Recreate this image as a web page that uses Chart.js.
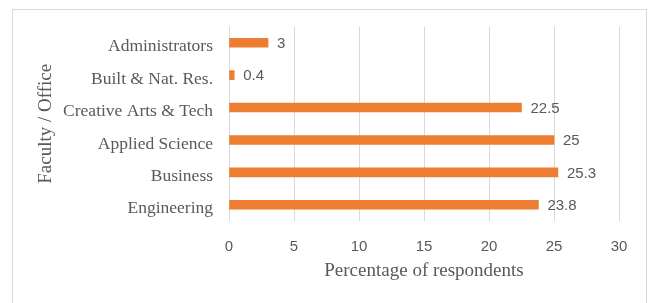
<!DOCTYPE html>
<html>
<head>
<meta charset="utf-8">
<script src="https://cdn.jsdelivr.net/npm/chart.js@4"></script>
<style>
  html, body { margin: 0; padding: 0; background: #fff; }
  #wrap { position: relative; width: 653px; height: 303px; overflow: hidden; }
  #frame { position: absolute; left: 12px; top: 9px; width: 633px; height: 320px; border: 1px solid #d9d9d9; }
  #chartCanvas { position: absolute; left: 0; top: 0; }
</style>
</head>
<body>
<div id="wrap">
  <div id="frame"></div>
  <canvas id="chartCanvas" width="653" height="303"></canvas>
</div>
<script>
// Kategoriler ve değerler (üstten alta)
const categories = ["Administrators", "Built & Nat. Res.", "Creative Arts & Tech", "Applied Science", "Business", "Engineering"];
const percentages = [3, 0.4, 22.5, 25, 25.3, 23.8];
const xTicks = [0, 5, 10, 15, 20, 25, 30];

const grey = "#595959";
const serif = "'Liberation Serif', 'Times New Roman', serif";
const sans = "'Liberation Sans', Arial, sans-serif";

// Bar sonuna değer yazan basit eklenti
const valueLabels = {
    id: "valueLabels",
    afterDatasetsDraw(chart) {
        let ctx = chart.ctx;
        let meta = chart.getDatasetMeta(0);
        ctx.save();
        ctx.font = "15px " + sans;
        ctx.fillStyle = grey;
        ctx.textAlign = "left";
        ctx.textBaseline = "middle";
        meta.data.forEach((bar, i) => {
            ctx.fillText(String(percentages[i]), bar.x + 9, bar.y + 1);
        });
        ctx.restore();
    }
};

let ctx = document.getElementById("chartCanvas");

new Chart(ctx, {
    type: "bar",
    data: {
        labels: categories,
        datasets: [{
            label: "Percentage of respondents",
            data: percentages,
            backgroundColor: "#ED7D31",
            barThickness: 9
        }]
    },
    options: {
        indexAxis: "y",
        responsive: false,
        animation: false,
        layout: { padding: { left: 35, top: 25, right: 34, bottom: 0 } },
        plugins: {
            legend: { display: false },
            tooltip: { enabled: false }
        },
        scales: {
            x: {
                min: 0,
                max: 30,
                afterBuildTicks: (scale) => { scale.ticks = xTicks.map(v => ({ value: v })); },
                afterFit: (scale) => { scale.height = 82; },
                grid: { color: "#d9d9d9", drawTicks: false },
                border: { display: false },
                ticks: { color: grey, font: { family: sans, size: 15 }, padding: 17 },
                title: {
                    display: true,
                    text: "Percentage of respondents",
                    color: grey,
                    font: { family: serif, size: 19 },
                    padding: { top: 0, bottom: 21 }
                }
            },
            y: {
                afterFit: (scale) => { scale.width = 194; },
                grid: { display: false, drawTicks: false },
                border: { display: false },
                ticks: { color: grey, font: { family: serif, size: 17.5 }, padding: 16, labelOffset: 4 },
                title: {
                    display: true,
                    text: "Faculty / Office",
                    color: grey,
                    font: { family: serif, size: 19 },
                    padding: 0
                }
            }
        }
    },
    plugins: [valueLabels]
});
</script>
</body>
</html>
